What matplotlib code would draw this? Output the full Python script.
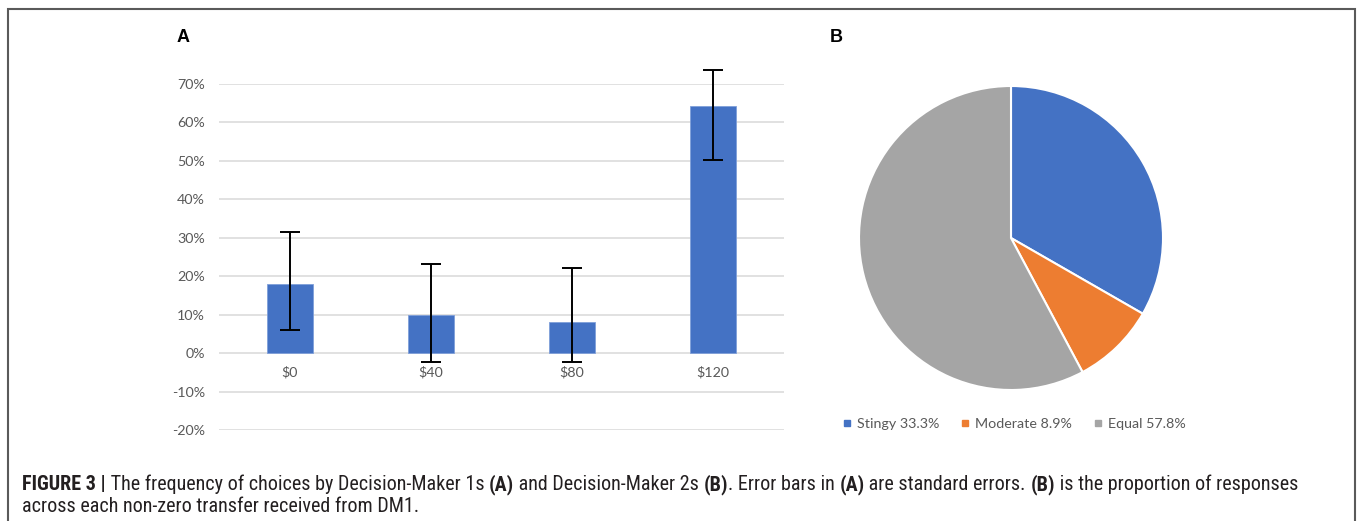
import matplotlib
matplotlib.use("Agg")
import matplotlib.pyplot as plt
from matplotlib import font_manager
from matplotlib.lines import Line2D
from matplotlib.patches import Rectangle

# ---- data -------------------------------------------------------------
transfers = ["$0", "$40", "$80", "$120"]
freq_pct = [18.0, 10.0, 8.0, 64.2]
err_lower_pct = [5.9, -2.2, -2.2, 50.3]
err_upper_pct = [31.6, 23.3, 22.1, 73.7]
y_ticks = [-20, -10, 0, 10, 20, 30, 40, 50, 60, 70]

response_types = ["Stingy", "Moderate", "Equal"]
response_share = [33.3, 8.9, 57.8]

BLUE = "#4472C4"
ORANGE = "#ED7D31"
GREY = "#A5A5A5"
pie_colors = [BLUE, ORANGE, GREY]

W, H = 1357, 521
fig = plt.figure(figsize=(W / 100, H / 100), dpi=100)


def fx(px):
    return px / W


def fy(py):
    return 1 - py / H


def pick_font(cands):
    names = {f.name for f in font_manager.fontManager.ttflist}
    for c in cands:
        if c in names:
            return c
    return "DejaVu Sans"


office_font = pick_font(["Lato", "Open Sans", "Liberation Sans"])
caption_font = pick_font(["Liberation Sans Narrow", "Roboto Condensed", "Liberation Sans"])
label_font = pick_font(["Liberation Sans", "Arial"])

# frame around the figure
fig.patches.append(Rectangle((fx(8), -0.05), fx(1355) - fx(8), fy(9) + 0.05,
                             transform=fig.transFigure, fill=False,
                             edgecolor="#5a5a5a", linewidth=1.5))

# ---- panel A: bar chart ----------------------------------------------
ax = fig.add_axes([fx(219.5), fy(430), fx(783.5) - fx(219.5), fy(84) - fy(430)])
x = list(range(len(transfers)))
ax.bar(x, freq_pct, width=0.32, color=BLUE, edgecolor="#7F9FD9",
       linewidth=0.6, zorder=2)
yerr = [[v - lo for v, lo in zip(freq_pct, err_lower_pct)],
        [hi - v for v, hi in zip(freq_pct, err_upper_pct)]]
ax.errorbar(x, freq_pct, yerr=yerr, fmt="none", ecolor="black",
            elinewidth=1.4, capsize=7.5, capthick=1.4, zorder=3, clip_on=False)
ax.set_xlim(-0.5, len(transfers) - 0.5)
ax.set_ylim(-20, 70)
ax.set_yticks(y_ticks)
ax.set_yticklabels([f"{t}%" for t in y_ticks])
ax.tick_params(axis="y", length=0, pad=10.5, labelsize=10.3, labelcolor="#595959")
for lab in ax.get_yticklabels():
    lab.set_fontfamily(office_font)
ax.set_xticks([])
for s in ax.spines.values():
    s.set_visible(False)
ax.grid(axis="y", color="#D9D9D9", linewidth=1.1, zorder=0)
ax.set_axisbelow(True)
for xi, lab in zip(x, transfers):
    ax.annotate(lab, (xi, 0), xytext=(0, -9), textcoords="offset points",
                ha="center", va="top", fontsize=10.3, color="#595959",
                fontfamily=office_font)

fig.text(fx(177), fy(38), "A", fontsize=13, fontweight="bold",
         fontfamily=label_font, va="center", ha="left")
fig.text(fx(830), fy(38), "B", fontsize=13, fontweight="bold",
         fontfamily=label_font, va="center", ha="left")

# ---- panel B: pie chart ----------------------------------------------
r = 152
pax = fig.add_axes([fx(1011 - r), fy(238 + r), fx(2 * r), fy(238 - r) - fy(238 + r)])
pax.pie(response_share, colors=pie_colors, startangle=90, counterclock=False,
        radius=1, wedgeprops=dict(edgecolor="white", linewidth=1.5))
pax.set_xlim(-1.0, 1.0)
pax.set_ylim(-1.0, 1.0)
pax.set_aspect("auto")
pax.axis("off")

handles = [Line2D([], [], marker="s", linestyle="none", markersize=5,
                  markerfacecolor=c, markeredgecolor=c) for c in pie_colors]
labels = [f"{n} {v}%" for n, v in zip(response_types, response_share)]
fig.legend(handles, labels, loc="center", bbox_to_anchor=(fx(1014), fy(424)),
           ncol=3, frameon=False, handlelength=0.6, handletextpad=0.4,
           columnspacing=1.5, prop=dict(family=office_font, size=10.3),
           labelcolor="#595959")

# ---- caption ---------------------------------------------------------
line1 = [("FIGURE 3 |", True), (" The frequency of choices by Decision-Maker 1s ", False),
         ("(A)", True), (" and Decision-Maker 2s ", False), ("(B)", True),
         (". Error bars in ", False), ("(A)", True), (" are standard errors. ", False),
         ("(B)", True), (" is the proportion of responses", False)]
line2 = [("across each non-zero transfer received from DM1.", False)]

renderer = fig.canvas.get_renderer()
CAP_COLOR = "#231F20"


def seg_width(s, bold, size):
    t = fig.text(0, 0, s.replace(" ", "\u00a0"), fontsize=size,
                 fontweight="bold" if bold else "normal", fontfamily=caption_font)
    w = t.get_window_extent(renderer).width
    t.remove()
    return w


def line_width(segs, size):
    return sum(seg_width(s, b, size) for s, b in segs)


target = 1303 - 22
size = 12.0
size *= target / line_width(line1, size)


def draw_line(segs, x0, ybase, size):
    xp = x0
    for s, b in segs:
        fig.text(fx(xp), fy(ybase), s.replace(" ", "\u00a0"), fontsize=size,
                 fontweight="bold" if b else "normal", fontfamily=caption_font,
                 color=CAP_COLOR, va="baseline", ha="left")
        xp += seg_width(s, b, size)


draw_line(line1, 22, 490, size)
draw_line(line2, 22, 512, size)

fig.savefig("out.png", dpi=100)
